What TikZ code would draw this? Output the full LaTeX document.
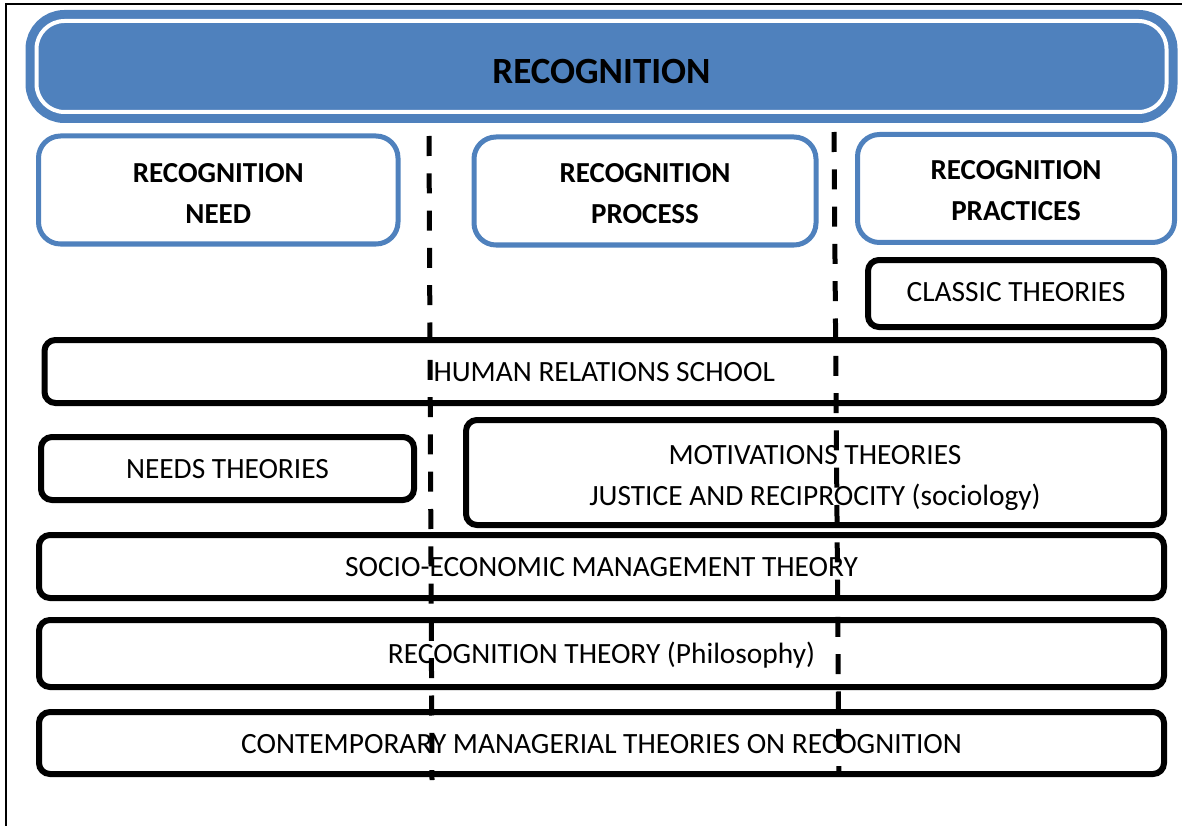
\documentclass[tikz,border=0pt]{standalone}
\usepackage{fontspec}
\setmainfont{Carlito}
\definecolor{officeblue}{HTML}{4F81BD}
\begin{document}
\begin{tikzpicture}[x=1pt, y=-1pt,
  every node/.style={font={\fontsize{29.4}{41}\selectfont}, align=center, inner sep=0pt},
  headbox/.style={draw=officeblue, line width=5pt, rounded corners=22pt, minimum height=108pt,
    text height=65pt, text depth=0pt, font={\fontsize{29}{41}\selectfont\bfseries}},
  theorybox/.style={draw=black, line width=6pt, rounded corners=11pt, text height=20pt, text depth=0pt},
  divider/.style={draw=black, line width=5pt, dash pattern=on 20pt off 17.3pt}]
\useasboundingbox (0,0) rectangle (1182,826);
\draw[line width=2pt] (6,826) -- (6,4) -- (1182,4);
\node[draw=officeblue, fill=officeblue, line width=9pt, double=white, double distance=4pt,
  rounded corners=28pt, minimum width=1130pt, minimum height=91pt, text height=34.8pt, text depth=0pt,
  font={\fontsize{37}{44}\selectfont\bfseries}] (title) at (601.5,66.5) {RECOGNITION};
\node[headbox, minimum width=359.5pt, text height=66.6pt] (need) at (218.25,190) {RECOGNITION\\NEED};
\node[headbox, minimum width=342pt] (process) at (645,191) {RECOGNITION\\PROCESS};
\node[headbox, minimum width=317pt, text height=63.6pt] (practices) at (1016,188.5) {RECOGNITION\\PRACTICES};
\node[theorybox, minimum width=296pt, minimum height=67pt, text height=16pt] (classic) at (1016,293.5) {CLASSIC THEORIES};
\node[theorybox, minimum width=1119.5pt, minimum height=63pt] (human) at (604.25,371.5) {HUMAN RELATIONS SCHOOL};
\node[theorybox, minimum width=373pt, minimum height=63pt] (needs) at (227.5,468.5) {NEEDS THEORIES};
\node[theorybox, minimum width=698pt, minimum height=105pt, text height=65.6pt] (motivation) at (815,472.5) {MOTIVATIONS THEORIES\\JUSTICE AND RECIPROCITY (sociology)};
\node[theorybox, minimum width=1125pt, minimum height=63pt] (socio) at (601.5,566.5) {SOCIO-ECONOMIC MANAGEMENT THEORY};
\node[theorybox, minimum width=1125pt, minimum height=67pt] (philosophy) at (601.5,653.5) {RECOGNITION THEORY (Philosophy)};
\node[theorybox, minimum width=1125pt, minimum height=62pt] (contemporary) at (601.5,743) {CONTEMPORARY MANAGERIAL THEORIES ON RECOGNITION};
\coordinate (lefttop) at (429,136);
\coordinate (leftbottom) at (432,780);
\coordinate (righttop) at (834,132);
\coordinate (rightbottom) at (839,775);
\draw[divider] (lefttop) -- (leftbottom);
\draw[divider] (righttop) -- (rightbottom);
\end{tikzpicture}
\end{document}
